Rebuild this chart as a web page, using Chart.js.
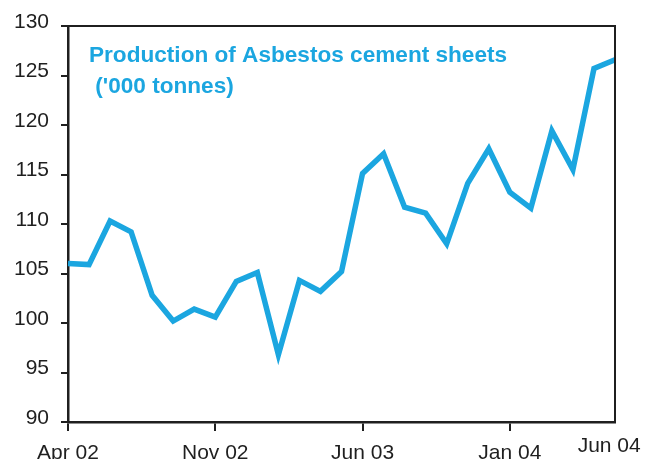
<!DOCTYPE html>
<html>
<head>
<meta charset="utf-8">
<script src="https://cdn.jsdelivr.net/npm/chart.js@4.4.0/dist/chart.umd.min.js"></script>
<style>
  html, body { margin: 0; padding: 0; background: #ffffff; }
  #wrap { width: 645px; height: 459px; position: relative; }
</style>
</head>
<body>
<div id="wrap"><canvas id="c"></canvas></div>
<script>
// ---- data ----
const months = [
  "Apr 02","May 02","Jun 02","Jul 02","Aug 02","Sep 02","Oct 02","Nov 02","Dec 02",
  "Jan 03","Feb 03","Mar 03","Apr 03","May 03","Jun 03","Jul 03","Aug 03","Sep 03",
  "Oct 03","Nov 03","Dec 03","Jan 04","Feb 04","Mar 04","Apr 04","May 04","Jun 04"
];
const production = [
  106.0, 105.9, 110.3, 109.2, 102.8, 100.2, 101.4, 100.6, 104.2,
  105.1, 96.8, 104.3, 103.2, 105.2, 115.1, 117.1, 111.7, 111.1,
  108.0, 114.1, 117.6, 113.2, 111.6, 119.4, 115.5, 125.7, 126.6
];
const xTickLabels = ["Apr 02", "Nov 02", "Jun 03", "Jan 04", "Jun 04"];
const yMin = 90, yMax = 130, yStep = 5;
const titleLines = ["Production of Asbestos cement sheets", " ('000 tonnes)"];

// ---- styling ----
const BLUE = "#1ba6e0";
const INK = "#1f1f1f";
const FONT = "'Liberation Sans', Arial, sans-serif";
const lastIdx = months.length - 1;

const framePlugin = {
  id: "frameAndTitle",
  afterDraw(chart) {
    const { ctx, chartArea: a } = chart;
    ctx.save();
    // plot frame (top / right)
    ctx.strokeStyle = INK;
    ctx.lineWidth = 2;
    ctx.beginPath();
    ctx.moveTo(a.left, a.top);
    ctx.lineTo(a.right, a.top);
    ctx.lineTo(a.right, a.bottom);
    ctx.stroke();
    // in-plot title
    ctx.fillStyle = BLUE;
    ctx.font = "bold 22.6px " + FONT;
    ctx.textAlign = "left";
    ctx.textBaseline = "alphabetic";
    ctx.fillText(titleLines[0], a.left + 21, a.top + 36);
    ctx.fillText(titleLines[1], a.left + 21, a.top + 67);
    ctx.restore();
  }
};

new Chart(document.getElementById("c"), {
  type: "line",
  data: {
    labels: months,
    datasets: [{
      label: titleLines.join(" "),
      data: production,
      borderColor: BLUE,
      backgroundColor: BLUE,
      borderWidth: 5.5,
      pointRadius: 0,
      tension: 0,
      borderJoinStyle: "miter",
      fill: false
    }]
  },
  options: {
    responsive: true,
    maintainAspectRatio: false,
    animation: false,
    layout: { padding: { top: 26, right: 30, left: 0, bottom: 0 } },
    plugins: {
      legend: { display: false },
      tooltip: { enabled: false },
      title: { display: false }
    },
    scales: {
      x: {
        type: "category",
        offset: false,
        border: { display: true, color: INK, width: 2.5 },
        grid: {
          drawOnChartArea: false,
          drawTicks: true,
          tickLength: 9,
          lineWidth: 2,
          color: (ctx) => {
            const lbl = months[ctx.index];
            return (xTickLabels.includes(lbl) && ctx.index !== lastIdx) ? INK : "rgba(0,0,0,0)";
          }
        },
        ticks: {
          autoSkip: false,
          maxRotation: 0,
          minRotation: 0,
          padding: 10,
          color: INK,
          font: (ctx) => ({
            family: FONT,
            size: 21,
            lineHeight: ctx.index === lastIdx ? 0.53 : 1.2
          }),
          callback: function (value, index) {
            const lbl = months[index];
            if (!xTickLabels.includes(lbl)) return "";
            return index === lastIdx ? lbl + "  " : lbl;
          }
        },
        afterFit(scale) {
          scale.height = 37;
          scale.paddingRight = 0;
        }
      },
      y: {
        min: yMin,
        max: yMax,
        border: { display: true, color: INK, width: 2.5 },
        grid: {
          drawOnChartArea: false,
          drawTicks: true,
          tickLength: 7,
          lineWidth: 2,
          color: INK
        },
        ticks: {
          stepSize: yStep,
          padding: 12,
          labelOffset: -4,
          color: INK,
          font: { family: FONT, size: 21 }
        },
        afterFit(scale) {
          scale.width = 68;
        }
      }
    }
  },
  plugins: [framePlugin]
});
</script>
</body>
</html>
